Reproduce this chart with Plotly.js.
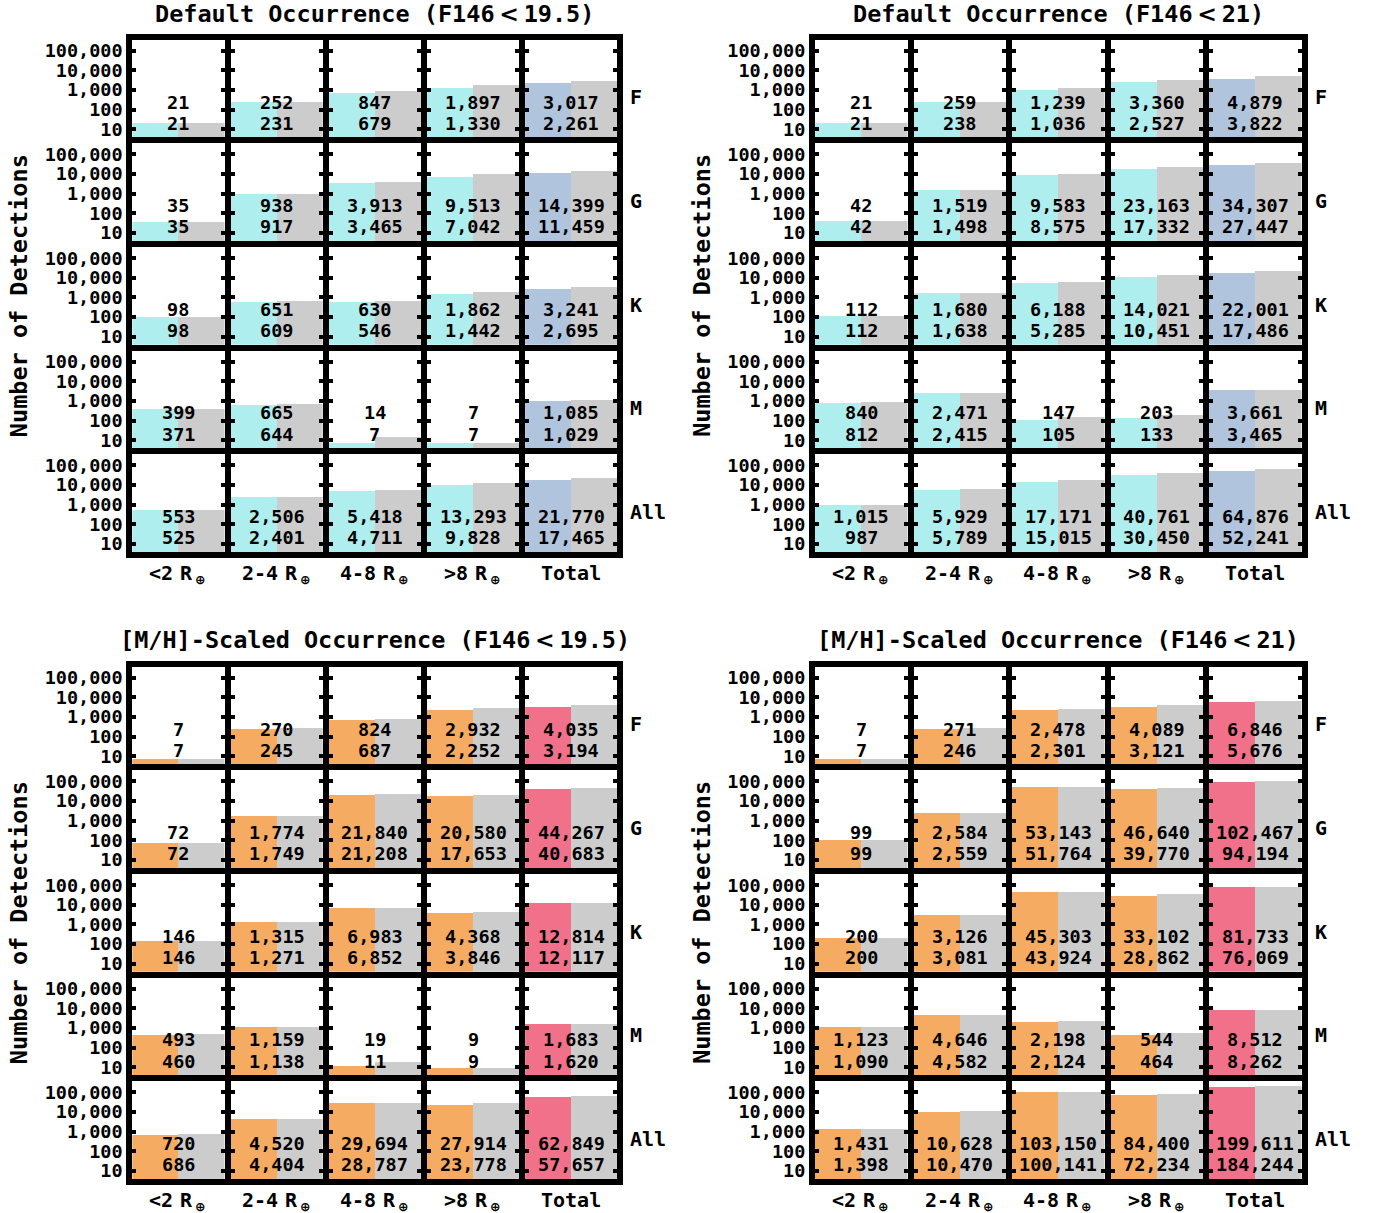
<!DOCTYPE html>
<html>
<head>
<meta charset="utf-8">
<script src="https://cdn.plot.ly/plotly-3.0.1.min.js"></script>
<style>html,body{margin:0;padding:0;background:#fff;}#chart{width:1378px;height:1213px;}</style>
</head>
<body>
<div id="chart"></div>
<script>
// ---- Data ----
const rowLabels = ['F', 'G', 'K', 'M', 'All'];
const colLabels = ['<2', '2-4', '4-8', '>8', 'Total'];
const radiusUnit = 'R';
const radiusSub = '⊕';
const tickVals = [10, 100, 1000, 10000, 100000];
const tickText = ['10', '100', '1,000', '10,000', '100,000'];

// Default occurrence, F146 < 19.5 (top number = grey bar, bottom number = coloured bar)
const defBrightTop = [
  [21, 252, 847, 1897, 3017],
  [35, 938, 3913, 9513, 14399],
  [98, 651, 630, 1862, 3241],
  [399, 665, 14, 7, 1085],
  [553, 2506, 5418, 13293, 21770]
];
const defBrightBottom = [
  [21, 231, 679, 1330, 2261],
  [35, 917, 3465, 7042, 11459],
  [98, 609, 546, 1442, 2695],
  [371, 644, 7, 7, 1029],
  [525, 2401, 4711, 9828, 17465]
];
// Default occurrence, F146 < 21
const defFaintTop = [
  [21, 259, 1239, 3360, 4879],
  [42, 1519, 9583, 23163, 34307],
  [112, 1680, 6188, 14021, 22001],
  [840, 2471, 147, 203, 3661],
  [1015, 5929, 17171, 40761, 64876]
];
const defFaintBottom = [
  [21, 238, 1036, 2527, 3822],
  [42, 1498, 8575, 17332, 27447],
  [112, 1638, 5285, 10451, 17486],
  [812, 2415, 105, 133, 3465],
  [987, 5789, 15015, 30450, 52241]
];
// [M/H]-scaled occurrence, F146 < 19.5
const mhBrightTop = [
  [7, 270, 824, 2932, 4035],
  [72, 1774, 21840, 20580, 44267],
  [146, 1315, 6983, 4368, 12814],
  [493, 1159, 19, 9, 1683],
  [720, 4520, 29694, 27914, 62849]
];
const mhBrightBottom = [
  [7, 245, 687, 2252, 3194],
  [72, 1749, 21208, 17653, 40683],
  [146, 1271, 6852, 3846, 12117],
  [460, 1138, 11, 9, 1620],
  [686, 4404, 28787, 23778, 57657]
];
// [M/H]-scaled occurrence, F146 < 21
const mhFaintTop = [
  [7, 271, 2478, 4089, 6846],
  [99, 2584, 53143, 46640, 102467],
  [200, 3126, 45303, 33102, 81733],
  [1123, 4646, 2198, 544, 8512],
  [1431, 10628, 103150, 84400, 199611]
];
const mhFaintBottom = [
  [7, 246, 2301, 3121, 5676],
  [99, 2559, 51764, 39770, 94194],
  [200, 3081, 43924, 28862, 76069],
  [1090, 4582, 2124, 464, 8262],
  [1398, 10470, 100141, 72234, 184244]
];

// ---- Layout / style ----
const W = 1378, H = 1213;
const FONT = 'DejaVu Sans Mono';
const SANS = 'DejaVu Sans';
const LW = 6;
const GREY = '#CCCCCC';
const pitchY = 103.66;
const esc = s => s.replace(/</g, '&lt;').replace(/>/g, '&gt;');
const lt = "<span style='font-family:DejaVu Sans'>&#8201;&lt;&#8201;</span>";

const panels = [
  {top: defBrightTop, bot: defBrightBottom, title: 'Default Occurrence (F146' + lt + '19.5)', col: '#AFEEEE', tot: '#B0C4DE', x0: 129.3, px: 98.2, y0: 36.7, titleY: 14},
  {top: defFaintTop, bot: defFaintBottom, title: 'Default Occurrence (F146' + lt + '21)', col: '#AFEEEE', tot: '#B0C4DE', x0: 812.0, px: 98.5, y0: 36.7, titleY: 14},
  {top: mhBrightTop, bot: mhBrightBottom, title: '[M/H]-Scaled Occurrence (F146' + lt + '19.5)', col: '#F5AC62', tot: '#F1708A', x0: 129.3, px: 98.2, y0: 663.7, titleY: 640},
  {top: mhFaintTop, bot: mhFaintBottom, title: '[M/H]-Scaled Occurrence (F146' + lt + '21)', col: '#F5AC62', tot: '#F1708A', x0: 812.0, px: 98.5, y0: 663.7, titleY: 640}
];

const fmt = v => v.toLocaleString('en-US');
const data = [];
const layout = {
  width: W, height: H,
  margin: {l: 0, r: 0, t: 0, b: 0},
  paper_bgcolor: '#fff', plot_bgcolor: '#fff',
  showlegend: false, hovermode: false,
  bargap: 0,
  annotations: []
};

const LABEL_SIZE = 20, SUB_SIZE = 12.5;
const monoW = 0.602 * LABEL_SIZE;          // advance of one mono character
const spW = 0.318 * LABEL_SIZE;            // space in DejaVu Sans
const subW = 0.838 * SUB_SIZE;             // circled plus

let idx = 0;
panels.forEach(p => {
  for (let r = 0; r < 5; r++) {
    for (let c = 0; c < 5; c++) {
      idx++;
      const s = idx === 1 ? '' : String(idx);
      const xa = 'x' + s, ya = 'y' + s;
      const left = p.x0 + c * p.px + LW / 2;
      const right = p.x0 + (c + 1) * p.px - LW / 2;
      const top = p.y0 + r * pitchY + LW / 2;
      const bottom = p.y0 + (r + 1) * pitchY - LW / 2;
      layout['xaxis' + s] = {
        domain: [left / W, right / W], anchor: ya, range: [-0.5, 1.5],
        showline: true, linewidth: LW, linecolor: '#000', mirror: true,
        showticklabels: false, ticks: '', showgrid: false, zeroline: false, fixedrange: true
      };
      layout['yaxis' + s] = {
        domain: [1 - bottom / H, 1 - top / H], anchor: xa, type: 'log', range: [0.588, 5.56],
        showline: true, linewidth: LW, linecolor: '#000', mirror: 'allticks',
        ticks: 'inside', ticklen: 4, tickwidth: 4, tickcolor: '#000',
        tickmode: 'array', tickvals: tickVals, ticktext: tickText,
        showticklabels: c === 0,
        tickfont: {family: FONT, size: 18.5, color: '#000', weight: 'bold'},
        showgrid: false, zeroline: false, fixedrange: true
      };
      data.push({
        type: 'bar', x: [0, 1], y: [p.bot[r][c], p.top[r][c]], width: [1, 1],
        marker: {color: [c === 4 ? p.tot : p.col, GREY], line: {width: 0}},
        xaxis: xa, yaxis: ya, hoverinfo: 'skip', showlegend: false
      });
      layout.annotations.push({
        xref: xa + ' domain', yref: ya + ' domain', x: 0.5, y: 0.362,
        xanchor: 'center', yanchor: 'middle', showarrow: false,
        text: fmt(p.top[r][c]), font: {family: FONT, size: 18.5, color: '#000', weight: 'bold'}
      });
      layout.annotations.push({
        xref: xa + ' domain', yref: ya + ' domain', x: 0.5, y: 0.144,
        xanchor: 'center', yanchor: 'middle', showarrow: false,
        text: fmt(p.bot[r][c]), font: {family: FONT, size: 18.5, color: '#000', weight: 'bold'}
      });
    }
    // row label
    layout.annotations.push({
      xref: 'paper', yref: 'paper',
      x: (p.x0 + 5 * p.px + LW / 2 + 5) / W, y: 1 - (p.y0 + r * pitchY + 60.6) / H,
      xanchor: 'left', yanchor: 'middle', showarrow: false,
      text: rowLabels[r], font: {family: FONT, size: 20, color: '#000', weight: 'bold'}
    });
  }
  // column labels
  const labY = p.y0 + 5 * pitchY + 18;
  for (let c = 0; c < 5; c++) {
    const cx = p.x0 + (c + 0.5) * p.px;
    if (c < 4) {
      const n = colLabels[c].length;
      const total = (n + 1) * monoW + spW + subW;
      const xr = cx - total / 2 + (n + 1) * monoW + spW;
      layout.annotations.push({
        xref: 'paper', yref: 'paper', x: (xr + 1) / W, y: 1 - labY / H,
        xanchor: 'right', yanchor: 'middle', showarrow: false,
        text: esc(colLabels[c]) + "<span style='font-family:DejaVu Sans'> </span>" + radiusUnit,
        font: {family: FONT, size: LABEL_SIZE, color: '#000', weight: 'bold'}
      });
      layout.annotations.push({
        xref: 'paper', yref: 'paper', x: (xr - 1) / W, y: 1 - (labY + 6) / H,
        xanchor: 'left', yanchor: 'middle', showarrow: false,
        height: 12, valign: 'middle',
        text: radiusSub,
        font: {family: SANS, size: SUB_SIZE, color: '#000', weight: 'bold'}
      });
    } else {
      layout.annotations.push({
        xref: 'paper', yref: 'paper', x: cx / W, y: 1 - labY / H,
        xanchor: 'center', yanchor: 'middle', showarrow: false,
        text: colLabels[c],
        font: {family: FONT, size: LABEL_SIZE, color: '#000', weight: 'bold'}
      });
    }
  }
  // panel title
  layout.annotations.push({
    xref: 'paper', yref: 'paper',
    x: (p.x0 + 2.5 * p.px) / W, y: 1 - p.titleY / H,
    xanchor: 'center', yanchor: 'middle', showarrow: false,
    text: p.title, font: {family: FONT, size: 23.5, color: '#000', weight: 'bold'}
  });
  // y-axis title
  layout.annotations.push({
    xref: 'paper', yref: 'paper',
    x: (p.x0 - 110) / W, y: 1 - (p.y0 + 2.5 * pitchY) / H,
    xanchor: 'center', yanchor: 'middle', showarrow: false, textangle: -90,
    text: 'Number of Detections', font: {family: FONT, size: 23.5, color: '#000', weight: 'bold'}
  });
});

Plotly.newPlot('chart', data, layout, {staticPlot: true, displayModeBar: false});
</script>
</body>
</html>
